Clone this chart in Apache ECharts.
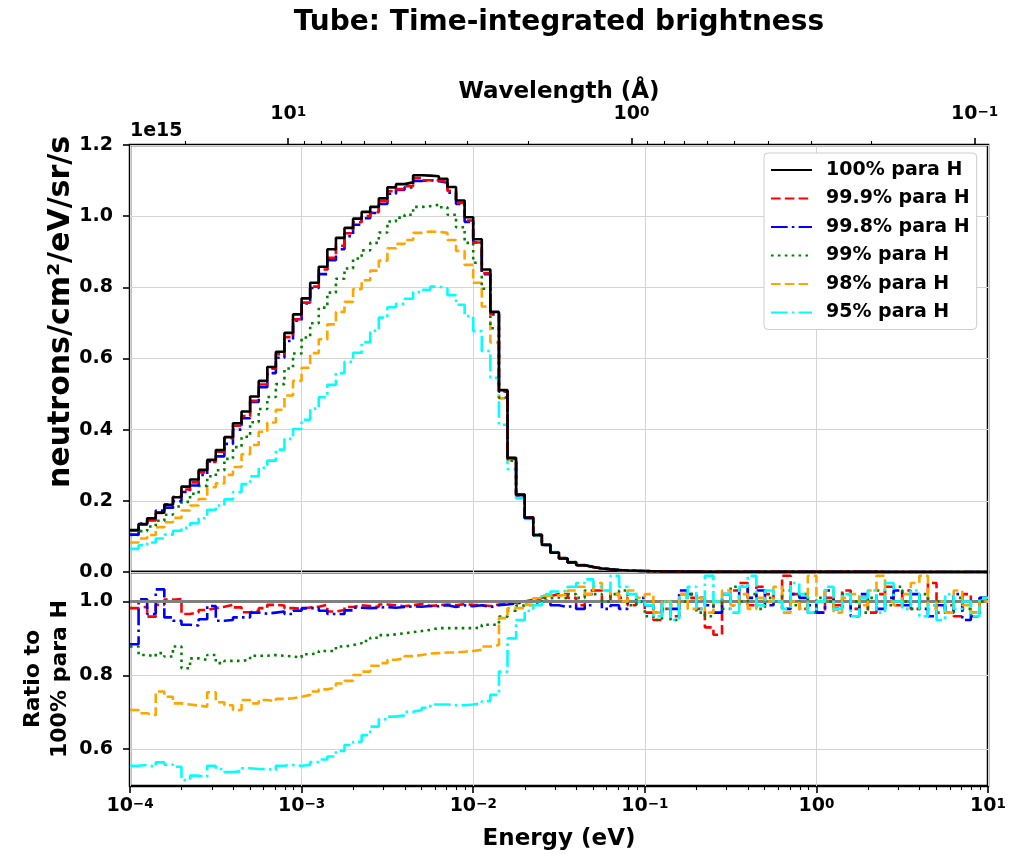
<!DOCTYPE html>
<html>
<head>
<meta charset="utf-8">
<script src="https://cdn.jsdelivr.net/npm/echarts@6/dist/echarts.min.js"></script>
<style>
  html, body { margin: 0; padding: 0; background: #ffffff; }
  #chart { width: 1017px; height: 854px; }
</style>
</head>
<body>
<div id="chart"></div>
<script>
// ---------------- DATA ----------------
// Histogram bins: 20 log-spaced bins per decade from 1e-4 eV to 10 eV (100 bins)
const E_MIN_EXP = -4;
const E_MAX_EXP = 1;
const BINS_PER_DECADE = 20;
const N_BINS = 100;
// wavelength (Angstrom) = LAMBDA_C / sqrt(E[eV])
const LAMBDA_C = 0.289;

const seriesNames = ['100% para H', '99.9% para H', '99.8% para H', '99% para H', '98% para H', '95% para H'];

// Brightness, units of 1e15 neutrons/cm^2/eV/sr/s, bins 0..55
const para100 = [0.118, 0.135, 0.151, 0.167, 0.189, 0.210, 0.240, 0.260, 0.287, 0.315,
  0.343, 0.379, 0.418, 0.451, 0.493, 0.537, 0.576, 0.619, 0.672, 0.724,
  0.769, 0.813, 0.858, 0.907, 0.939, 0.967, 0.993, 1.012, 1.026, 1.050,
  1.081, 1.090, 1.095, 1.115, 1.114, 1.112, 1.105, 1.082, 1.044, 0.997,
  0.935, 0.850, 0.731, 0.511, 0.321, 0.218, 0.153, 0.104, 0.076, 0.054,
  0.038, 0.027, 0.019, 0.014, 0.010, 0.0075];
const para999 = [0.116, 0.133, 0.145, 0.166, 0.190, 0.211, 0.232, 0.252, 0.280, 0.309,
  0.338, 0.376, 0.411, 0.438, 0.481, 0.527, 0.571, 0.612, 0.660, 0.710,
  0.757, 0.802, 0.850, 0.883, 0.917, 0.952, 0.983, 1.000, 1.011, 1.042,
  1.070, 1.076, 1.084, 1.107, 1.101, 1.101, 1.096, 1.071, 1.037, 0.988,
  0.926, 0.840, 0.725, 0.508, 0.320, 0.218, 0.154, 0.105, 0.077, 0.055,
  0.039, 0.027, 0.019, 0.014, 0.010, 0.0075];
const para998 = [0.105, 0.136, 0.146, 0.173, 0.181, 0.199, 0.225, 0.243, 0.273, 0.311,
  0.325, 0.360, 0.400, 0.432, 0.478, 0.519, 0.559, 0.602, 0.649, 0.706,
  0.755, 0.798, 0.837, 0.876, 0.907, 0.944, 0.976, 0.994, 1.009, 1.034,
  1.063, 1.074, 1.081, 1.099, 1.101, 1.098, 1.094, 1.066, 1.034, 0.984,
  0.926, 0.837, 0.724, 0.507, 0.318, 0.216, 0.152, 0.104, 0.076, 0.054,
  0.038, 0.027, 0.019, 0.014, 0.010, 0.0074];
const para99 = [0.104, 0.115, 0.128, 0.144, 0.161, 0.184, 0.197, 0.220, 0.242, 0.269,
  0.286, 0.318, 0.351, 0.380, 0.421, 0.458, 0.492, 0.528, 0.572, 0.614,
  0.659, 0.699, 0.743, 0.785, 0.824, 0.853, 0.881, 0.904, 0.925, 0.954,
  0.985, 0.996, 1.004, 1.026, 1.028, 1.032, 1.025, 1.004, 0.969, 0.925,
  0.869, 0.796, 0.685, 0.490, 0.313, 0.216, 0.152, 0.103, 0.077, 0.055,
  0.038, 0.028, 0.019, 0.014, 0.010, 0.0075];
const para98 = [0.083, 0.094, 0.104, 0.126, 0.140, 0.152, 0.173, 0.187, 0.205, 0.238,
  0.249, 0.273, 0.295, 0.331, 0.357, 0.394, 0.420, 0.456, 0.496, 0.537,
  0.574, 0.615, 0.654, 0.696, 0.731, 0.759, 0.795, 0.820, 0.847, 0.875,
  0.910, 0.922, 0.933, 0.953, 0.957, 0.956, 0.953, 0.933, 0.902, 0.863,
  0.813, 0.746, 0.645, 0.488, 0.315, 0.214, 0.151, 0.105, 0.077, 0.055,
  0.039, 0.028, 0.020, 0.014, 0.011, 0.0077];
const para95 = [0.065, 0.075, 0.083, 0.094, 0.105, 0.116, 0.124, 0.137, 0.151, 0.175,
  0.187, 0.204, 0.225, 0.247, 0.269, 0.293, 0.313, 0.344, 0.374, 0.402,
  0.428, 0.459, 0.491, 0.526, 0.559, 0.591, 0.616, 0.646, 0.678, 0.715,
  0.744, 0.754, 0.768, 0.787, 0.793, 0.802, 0.797, 0.778, 0.751, 0.719,
  0.677, 0.621, 0.546, 0.414, 0.289, 0.207, 0.149, 0.103, 0.078, 0.056,
  0.039, 0.028, 0.020, 0.015, 0.010, 0.0077];
// bins 56..99: all six curves coincide (far below plot resolution)
const highEnergyTail = [0.0056, 0.0043, 0.0034, 0.0027, 0.0022, 0.0018, 0.0015, 0.0013, 0.0011, 0.0010,
  0.0009, 0.0008, 0.0007, 0.00065, 0.0006, 0.00055, 0.0005, 0.00046, 0.00043, 0.0004,
  0.00037, 0.00035, 0.00033, 0.00031, 0.00029, 0.00027, 0.00026, 0.00025, 0.00024, 0.00023,
  0.00022, 0.00021, 0.0002, 0.00019, 0.00018, 0.00017, 0.00016, 0.00015, 0.00015, 0.00014,
  0.00014, 0.00013, 0.00013, 0.00012];

// Ratio to 100% para H, bins 0..99
const ratio999 = [0.982, 0.986, 0.959, 0.991, 1.005, 1.007, 0.966, 0.971, 0.977, 0.982,
  0.986, 0.991, 0.984, 0.971, 0.975, 0.982, 0.991, 0.989, 0.982, 0.980,
  0.984, 0.986, 0.991, 0.973, 0.977, 0.985, 0.990, 0.988, 0.985, 0.992,
  0.990, 0.987, 0.990, 0.993, 0.988, 0.990, 0.992, 0.990, 0.993, 0.991,
  0.990, 0.988, 0.992, 0.995, 0.997, 1.000, 1.005, 1.010, 1.015, 1.020,
  1.020, 1.01, 0.99, 1.02, 1.03, 1.00, 1.02, 1.01, 0.99, 1.00,
  0.97, 0.95, 0.98, 0.96, 1.02, 1.01, 0.98, 0.93, 0.91, 1.00,
  1.03, 1.05, 0.99, 1.04, 1.02, 1.00, 1.07, 1.02, 0.98, 1.00,
  0.97, 1.01, 0.99, 1.03, 0.98, 1.01, 0.97, 1.02, 1.04, 0.99,
  1.03, 0.98, 1.00, 1.05, 0.97, 0.99, 0.96, 1.02, 0.97, 1.01];
const ratio998 = [0.884, 1.006, 0.966, 1.033, 0.957, 0.948, 0.937, 0.935, 0.952, 0.988,
  0.948, 0.950, 0.957, 0.957, 0.970, 0.967, 0.970, 0.973, 0.966, 0.975,
  0.982, 0.982, 0.975, 0.966, 0.966, 0.976, 0.983, 0.982, 0.983, 0.985,
  0.983, 0.985, 0.987, 0.986, 0.988, 0.987, 0.990, 0.985, 0.990, 0.987,
  0.990, 0.985, 0.990, 0.992, 0.995, 0.998, 1.000, 1.005, 1.000, 0.990,
  0.985, 0.99, 0.98, 0.99, 1.00, 0.98, 0.99, 0.98, 1.00, 1.01,
  0.99, 0.97, 1.00, 0.98, 1.03, 1.02, 1.01, 0.99, 0.97, 1.02,
  0.99, 1.04, 1.01, 1.03, 0.99, 1.00, 0.98, 1.02, 1.01, 0.99,
  0.97, 1.03, 0.98, 1.00, 0.96, 1.02, 1.00, 0.98, 1.01, 1.03,
  0.99, 1.02, 0.98, 0.96, 0.99, 0.97, 1.02, 0.95, 0.96, 1.01];
const ratio99 = [0.878, 0.855, 0.851, 0.860, 0.851, 0.878, 0.819, 0.846, 0.842, 0.855,
  0.833, 0.839, 0.839, 0.842, 0.853, 0.853, 0.855, 0.853, 0.851, 0.848,
  0.857, 0.860, 0.866, 0.866, 0.878, 0.882, 0.887, 0.893, 0.902, 0.909,
  0.911, 0.914, 0.917, 0.920, 0.923, 0.928, 0.928, 0.928, 0.928, 0.928,
  0.929, 0.937, 0.937, 0.959, 0.975, 0.989, 0.991, 0.993, 1.009, 1.011,
  1.009, 1.02, 1.01, 1.03, 1.02, 1.00, 1.02, 1.03, 0.99, 1.00,
  0.96, 0.95, 0.98, 0.95, 1.00, 1.02, 0.97, 0.96, 1.00, 0.98,
  1.04, 1.00, 1.02, 0.98, 1.01, 1.00, 1.03, 0.99, 1.02, 0.97,
  1.01, 1.00, 0.98, 1.02, 1.00, 0.97, 1.01, 1.03, 0.99, 1.04,
  1.00, 0.98, 1.02, 0.99, 1.00, 0.97, 1.01, 0.98, 0.96, 1.00];
const ratio98 = [0.706, 0.697, 0.692, 0.756, 0.742, 0.724, 0.721, 0.718, 0.715, 0.754,
  0.727, 0.719, 0.706, 0.733, 0.724, 0.733, 0.730, 0.736, 0.738, 0.742,
  0.747, 0.756, 0.762, 0.767, 0.778, 0.785, 0.801, 0.810, 0.826, 0.833,
  0.842, 0.846, 0.852, 0.855, 0.859, 0.860, 0.862, 0.862, 0.864, 0.866,
  0.869, 0.878, 0.882, 0.955, 0.982, 0.982, 0.991, 1.009, 1.016, 1.016,
  1.018, 1.03, 1.04, 1.02, 1.05, 1.03, 1.02, 1.00, 1.03, 1.01,
  1.02, 0.97, 1.00, 0.99, 1.02, 0.98, 1.01, 0.97, 1.00, 1.03,
  0.99, 1.02, 0.98, 1.01, 1.00, 1.04, 0.97, 1.00, 0.98, 1.07,
  1.00, 1.03, 0.97, 1.01, 1.02, 0.99, 1.03, 1.07, 1.00, 0.99,
  1.02, 1.05, 1.07, 0.98, 1.00, 0.97, 1.03, 0.99, 0.97, 1.00];
const ratio95 = [0.555, 0.557, 0.552, 0.564, 0.558, 0.552, 0.516, 0.528, 0.525, 0.555,
  0.546, 0.538, 0.540, 0.548, 0.546, 0.546, 0.543, 0.555, 0.557, 0.555,
  0.557, 0.565, 0.572, 0.580, 0.595, 0.611, 0.620, 0.638, 0.661, 0.681,
  0.688, 0.692, 0.701, 0.706, 0.712, 0.721, 0.721, 0.719, 0.719, 0.721,
  0.724, 0.730, 0.747, 0.810, 0.900, 0.950, 0.975, 0.990, 1.020, 1.027,
  1.029, 1.04, 1.05, 1.06, 1.04, 1.03, 1.07, 1.04, 1.02, 1.00,
  0.99, 0.96, 1.00, 0.95, 1.01, 1.04, 0.98, 1.07, 1.00, 1.02,
  0.97, 1.04, 1.07, 0.99, 1.03, 1.00, 0.98, 1.05, 1.02, 0.97,
  1.00, 1.04, 0.98, 1.02, 0.96, 1.01, 1.03, 0.97, 1.05, 1.00,
  0.98, 1.03, 0.96, 0.99, 0.95, 1.02, 0.98, 1.00, 0.96, 1.01];

const topAxisTicks = [0, 0.2, 0.4, 0.6, 0.8, 1.0, 1.2];
const ratioAxisTicks = [0.6, 0.8, 1.0];
const wavelengthLabelExps = [-1, 0, 1];

// ---------------- STYLES ----------------
const colors = ['#000000', '#ff0000', '#0000ff', '#008000', '#ffa500', '#00ffff'];
const LW = 2.6;
const dashes = [
  'solid',
  [3.7 * LW, 1.6 * LW],
  [6.4 * LW, 1.6 * LW, 1 * LW, 1.6 * LW],
  [1 * LW, 1.65 * LW],
  [3.7 * LW, 1.6 * LW],
  [6.4 * LW, 1.6 * LW, 1 * LW, 1.6 * LW]
];
const FONT = '"DejaVu Sans", "Liberation Sans", sans-serif';
const TICK_FS = 19;

// ---------------- BUILD ----------------
const edges = [];
for (let i = 0; i <= N_BINS; i++) edges.push(Math.pow(10, E_MIN_EXP + i / BINS_PER_DECADE));

function stairs(vals) {
  const pts = vals.map((v, i) => [edges[i], v]);
  pts.push([edges[vals.length], vals[vals.length - 1]]);
  return pts;
}

function pow10Label(e) {
  return '{b|10}{s|' + String(e).replace('-', '\u2212') + '}';
}
const powRich = {
  b: { fontFamily: FONT, fontWeight: 'bold', fontSize: TICK_FS, lineHeight: TICK_FS, color: '#000',
       verticalAlign: 'bottom', padding: [5, 0, 0, 0] },
  s: { fontFamily: FONT, fontWeight: 'bold', fontSize: 13.5, lineHeight: 14, color: '#000',
       verticalAlign: 'top' }
};

const topVals = [para100, para999, para998, para99, para98, para95].map(a => a.concat(highEnergyTail));
const ratioVals = [ratio999, ratio998, ratio99, ratio98, ratio95];

// minor tick positions (log10 space)
const energyMinor = [];
for (let n = E_MIN_EXP; n < E_MAX_EXP; n++) for (let k = 2; k <= 9; k++) energyMinor.push(n + Math.log10(k));
const lamMin = Math.log10(LAMBDA_C) - 0.5 * E_MAX_EXP;
const lamMax = Math.log10(LAMBDA_C) - 0.5 * E_MIN_EXP;
const lamMinor = [];
for (let n = -2; n <= 2; n++) for (let k = 2; k <= 9; k++) {
  const p = n + Math.log10(k);
  if (p > lamMin && p < lamMax) lamMinor.push(p);
}

const series = [];
topVals.forEach((vals, i) => {
  series.push({
    name: seriesNames[i], type: 'line', xAxisIndex: 0, yAxisIndex: 0,
    data: stairs(vals), step: 'end', showSymbol: false, symbol: 'none',
    lineStyle: { color: colors[i], width: LW, type: dashes[i] },
    itemStyle: { color: colors[i] }, z: 10 - i
  });
});
ratioVals.forEach((vals, j) => {
  const i = j + 1;
  series.push({
    name: seriesNames[i], type: 'line', xAxisIndex: 1, yAxisIndex: 1,
    data: stairs(vals), step: 'end', showSymbol: false, symbol: 'none',
    lineStyle: { color: colors[i], width: LW, type: dashes[i] },
    itemStyle: { color: colors[i] }, z: 3 + j
  });
});
series.push({
  name: 'ratio-one', type: 'line', xAxisIndex: 1, yAxisIndex: 1, data: [], z: 20,
  markLine: {
    silent: true, symbol: 'none', label: { show: false }, animation: false,
    lineStyle: { color: '#808080', width: 3, type: 'solid' },
    data: [{ yAxis: 1.0 }]
  }
});

const tickLabel = { fontFamily: FONT, fontWeight: 'bold', fontSize: TICK_FS, color: '#000' };
const gridLine = { show: true, lineStyle: { color: '#d4d4d4', width: 1 } };
const noLine = { show: false, onZero: false };
const nameStyle = { fontFamily: FONT, fontWeight: 'bold', fontSize: 23, color: '#000' };

const option = {
  animation: false,
  backgroundColor: '#ffffff',
  grid: [
    { left: 130, right: 29, top: 145, height: 427, show: true, borderColor: '#000', borderWidth: 2.5, backgroundColor: 'transparent', outerBoundsMode: 'none', containLabel: false },
    { left: 130, right: 29, top: 572, height: 214, show: true, borderColor: '#000', borderWidth: 2.5, backgroundColor: 'transparent', outerBoundsMode: 'none', containLabel: false }
  ],
  legend: {
    data: seriesNames, orient: 'vertical', left: 764, top: 153,
    itemWidth: 41, itemHeight: 14, itemGap: 6.5,
    padding: [6, 7, 6, 6],
    backgroundColor: '#ffffff', borderColor: '#cccccc', borderWidth: 1, borderRadius: 4,
    itemStyle: { opacity: 0, borderWidth: 0 },
    textStyle: { fontFamily: FONT, fontWeight: 'bold', fontSize: TICK_FS, color: '#000', lineHeight: 22, padding: [0, 0, 0, 9] },
    selectedMode: false
  },
  xAxis: [
    { // 0: top panel energy (hidden labels, gridlines)
      type: 'log', logBase: 10, gridIndex: 0, min: Math.pow(10, E_MIN_EXP), max: Math.pow(10, E_MAX_EXP),
      position: 'bottom', axisLine: noLine, axisTick: { show: false }, axisLabel: { show: false },
      splitLine: gridLine
    },
    { // 1: ratio panel energy
      type: 'log', logBase: 10, gridIndex: 1, min: Math.pow(10, E_MIN_EXP), max: Math.pow(10, E_MAX_EXP),
      position: 'bottom', axisLine: noLine,
      axisTick: { show: true, length: 7, lineStyle: { color: '#000', width: 1.6 } },
      axisLabel: { margin: 11, formatter: v => pow10Label(Math.round(Math.log10(v))), rich: powRich },
      splitLine: gridLine,
      name: 'Energy (eV)', nameLocation: 'middle', nameGap: 42, nameMoveOverlap: false,
      nameTextStyle: nameStyle
    },
    { // 2: ratio panel energy minor ticks (log10 space)
      type: 'value', gridIndex: 1, min: E_MIN_EXP, max: E_MAX_EXP, position: 'bottom', offset: 0,
      axisLine: noLine, axisLabel: { show: false }, splitLine: { show: false },
      axisTick: { show: true, length: 4, customValues: energyMinor, lineStyle: { color: '#000', width: 1.1 } }
    },
    { // 3: wavelength top axis (log10 lambda space)
      type: 'value', gridIndex: 0, min: lamMin, max: lamMax, inverse: true, position: 'top', offset: 0,
      axisLine: noLine, splitLine: { show: false },
      axisTick: { show: true, length: 7, customValues: wavelengthLabelExps, lineStyle: { color: '#000', width: 1.6 } },
      axisLabel: { margin: 21, customValues: wavelengthLabelExps, formatter: v => pow10Label(Math.round(v)), rich: powRich },
      name: 'Wavelength (\u00C5)', nameLocation: 'middle', nameGap: 41, nameMoveOverlap: false,
      nameTextStyle: nameStyle
    },
    { // 4: wavelength minor ticks
      type: 'value', gridIndex: 0, min: lamMin, max: lamMax, inverse: true, position: 'top', offset: 0,
      axisLine: noLine, axisLabel: { show: false }, splitLine: { show: false },
      axisTick: { show: true, length: 4, customValues: lamMinor, lineStyle: { color: '#000', width: 1.1 } }
    }
  ],
  yAxis: [
    {
      type: 'value', gridIndex: 0, min: 0, max: 1.2, interval: 0.2,
      axisLine: noLine,
      axisTick: { show: true, length: 7, customValues: topAxisTicks, lineStyle: { color: '#000', width: 1.6 } },
      axisLabel: Object.assign({ margin: 17, customValues: topAxisTicks, formatter: v => v.toFixed(1) }, tickLabel),
      splitLine: gridLine
    },
    {
      type: 'value', gridIndex: 1, min: 0.5, max: 1.08,
      axisLine: noLine,
      axisTick: { show: true, length: 7, customValues: ratioAxisTicks, lineStyle: { color: '#000', width: 1.6 } },
      axisLabel: Object.assign({ margin: 17, customValues: ratioAxisTicks, formatter: v => v.toFixed(1) }, tickLabel),
      splitLine: gridLine
    }
  ],
  graphic: [
    { type: 'text', x: 559, y: 23, z: 100,
      style: { text: 'Tube: Time-integrated brightness', font: 'bold 28px ' + FONT, fill: '#000',
        textAlign: 'center', textVerticalAlign: 'middle', align: 'center', verticalAlign: 'middle' } },
    { type: 'text', x: 130, y: 131, z: 100,
      style: { text: '1e15', font: 'bold 19px ' + FONT, fill: '#000',
        textAlign: 'left', textVerticalAlign: 'middle', align: 'left', verticalAlign: 'middle' } },
    { type: 'text', x: 61, y: 312, rotation: Math.PI / 2, z: 100,
      style: { text: 'neutrons/cm\u00B2/eV/sr/s', font: 'bold 30px ' + FONT, fill: '#000',
        textAlign: 'center', textVerticalAlign: 'middle', align: 'center', verticalAlign: 'middle' } },
    { type: 'text', x: 47, y: 679, rotation: Math.PI / 2, z: 100,
      style: { text: 'Ratio to\n100% para H', font: 'bold 22px ' + FONT, fill: '#000', lineHeight: 27,
        textAlign: 'center', textVerticalAlign: 'middle', align: 'center', verticalAlign: 'middle' } }
  ],
  series: series
};

const chart = echarts.init(document.getElementById('chart'), null, { renderer: 'canvas' });
chart.setOption(option);
</script>
</body>
</html>
